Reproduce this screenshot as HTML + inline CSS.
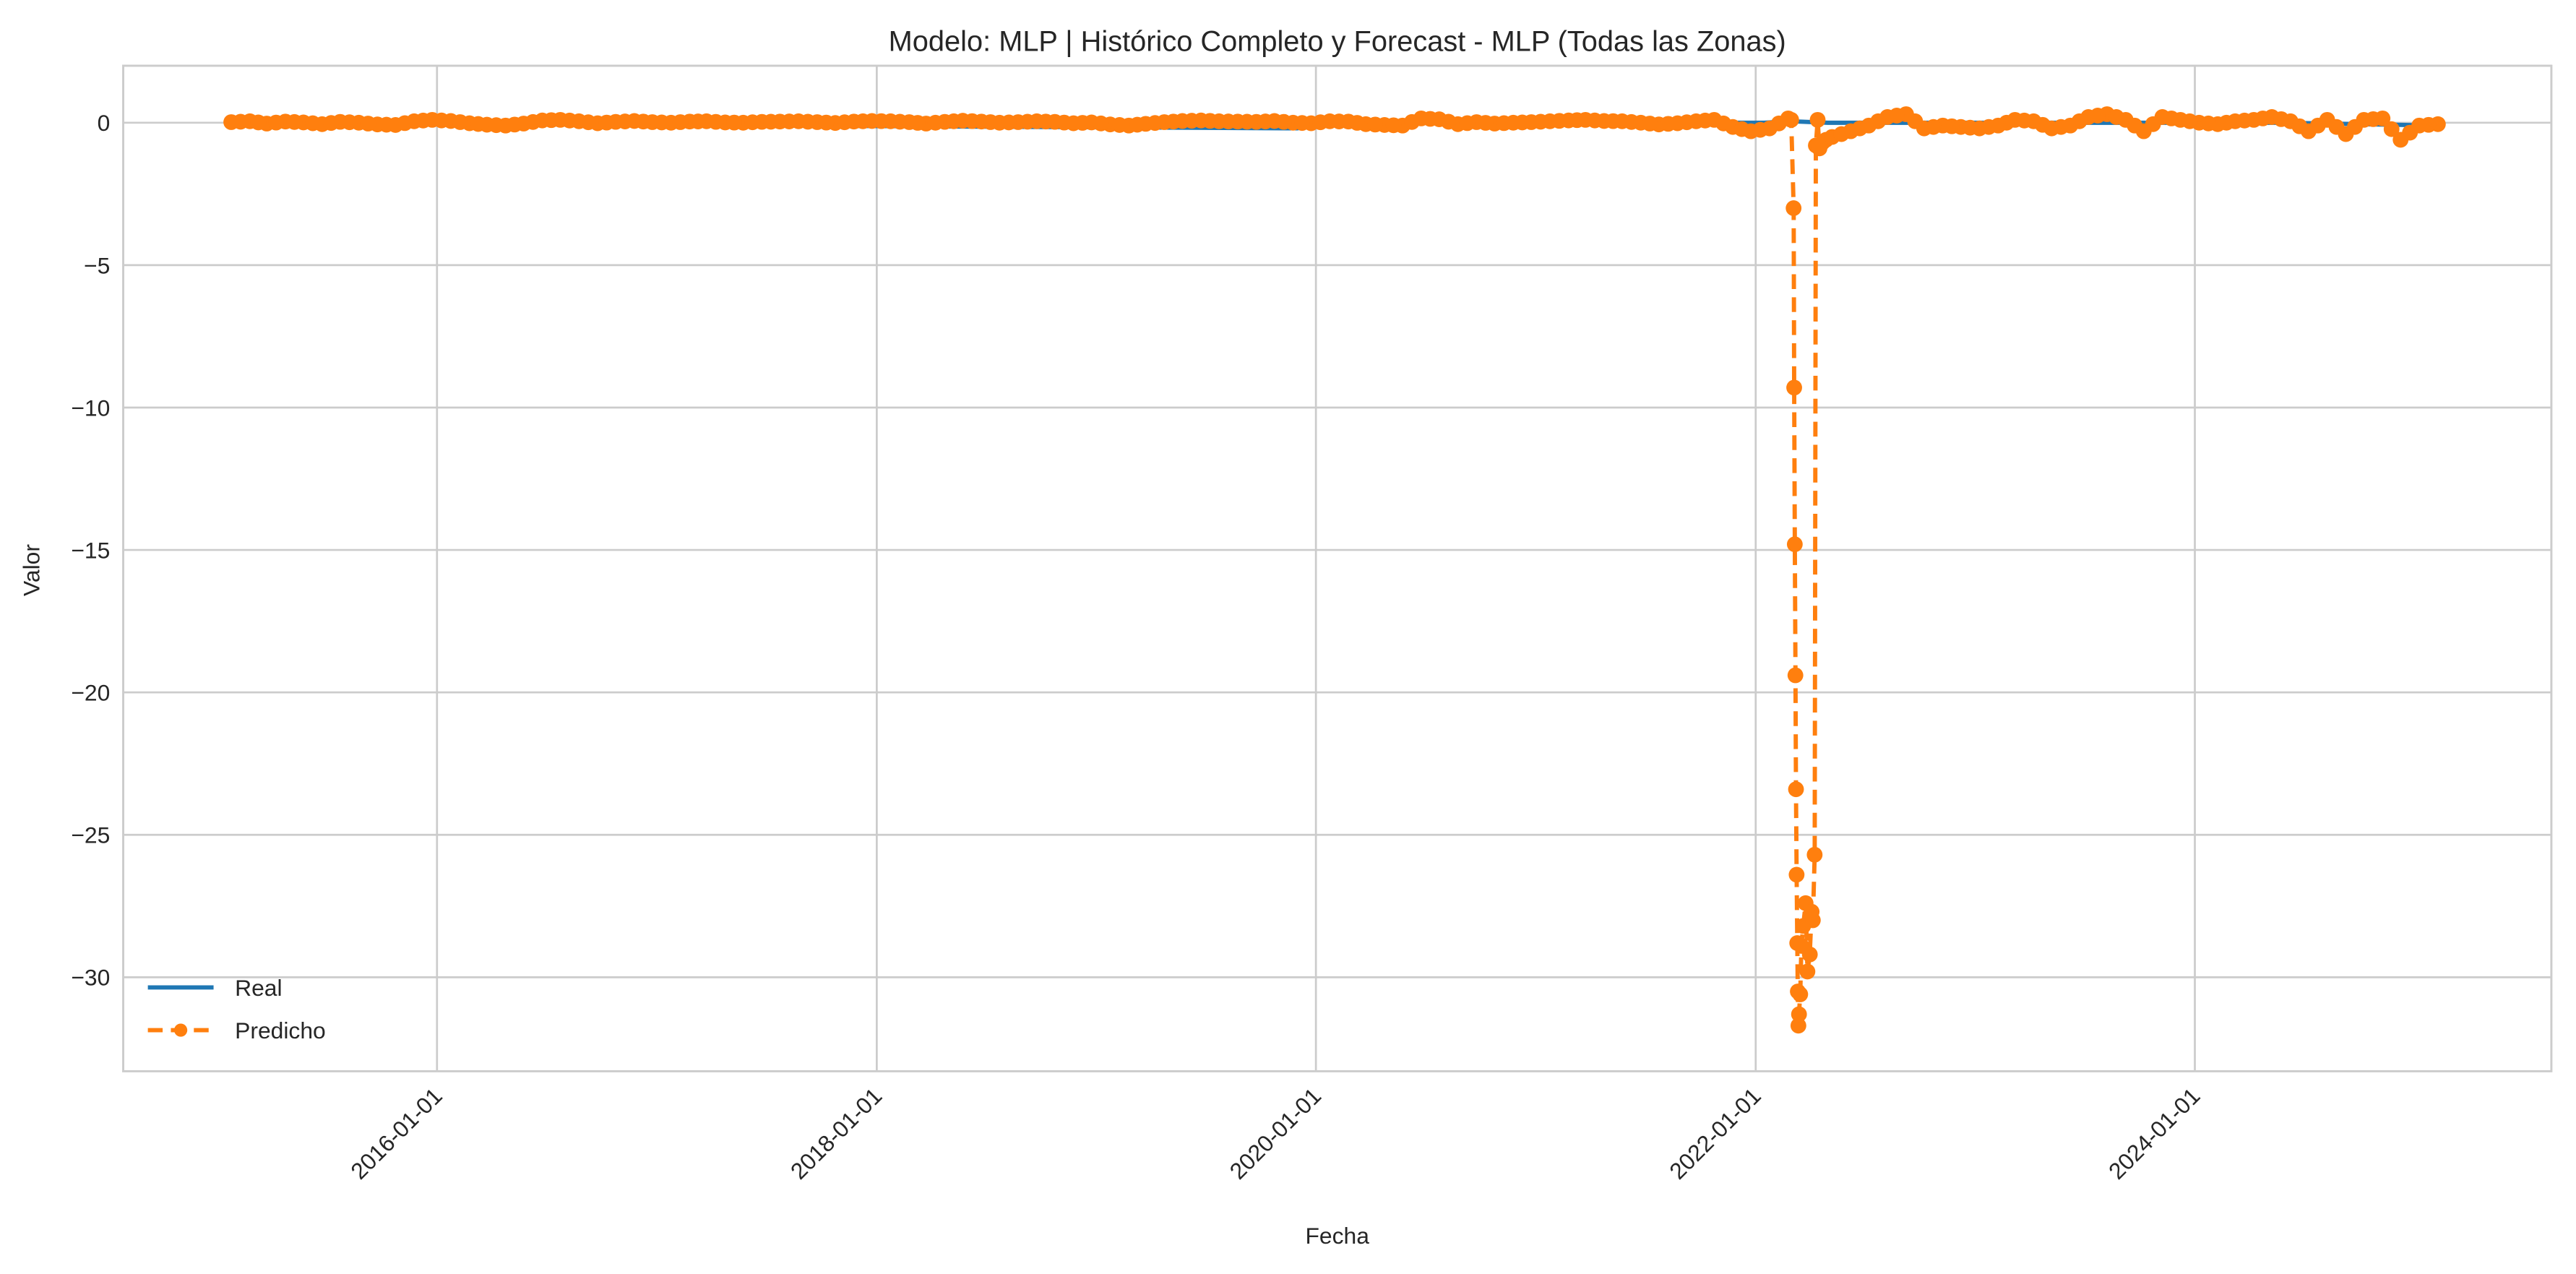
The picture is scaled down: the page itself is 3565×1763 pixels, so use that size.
<!DOCTYPE html>
<html><head><meta charset="utf-8"><style>
html,body{margin:0;padding:0;background:#fff;}
svg{display:block;font-family:"Liberation Sans",sans-serif;}
</style></head><body>
<svg id="chart" width="3565" height="1763" viewBox="0 0 1568 775.4">
<rect width="1568" height="775.4" fill="#fff"/>
<g id="grid"></g>
<g id="series"></g>
<rect x="75" y="40" width="1478" height="612" fill="none" stroke="#ccc" stroke-width="1.3"/>
<g id="ticks"></g>
<text x="814" y="31" font-size="17.5" fill="#262626" text-anchor="middle">Modelo: MLP | Histórico Completo y Forecast - MLP (Todas las Zonas)</text>
<text x="814" y="757" font-size="14" fill="#262626" text-anchor="middle">Fecha</text>
<text x="24" y="347" font-size="14" fill="#262626" text-anchor="middle" transform="rotate(-90 24 347)">Valor</text>
<g>
<g>
<line x1="90" y1="601" x2="130" y2="601" stroke="#1f77b4" stroke-width="2.6"/>
<text x="143" y="606" font-size="14" fill="#262626">Real</text></g>
<g>
<line x1="90" y1="627" x2="130" y2="627" stroke="#ff7f0e" stroke-width="2.6" stroke-dasharray="9,5"/>
<circle cx="110" cy="627" r="4" fill="#ff7f0e"/>
<text x="143" y="632" font-size="14" fill="#262626">Predicho</text></g>
</g>
</svg>
<script>
const yTicks=[0,-5,-10,-15,-20,-25,-30];
const xTickLabels=["2016-01-01","2018-01-01","2020-01-01","2022-01-01","2024-01-01"];
// monthly predicted values 2015-01 .. 2022-02
const predMonthlyA=[0.02,0.05,-0.03,0.04,0.01,-0.05,0.03,0.0,-0.06,-0.08,0.05,0.1,0.06,-0.02,-0.07,-0.1,-0.03,0.08,0.1,0.05,-0.02,0.03,0.06,0.02,0.0,0.04,0.05,0.01,0.0,0.03,0.04,0.05,0.02,-0.01,0.04,0.06,0.05,0.02,-0.03,0.03,0.07,0.04,0.0,0.02,0.05,0.03,-0.02,0.01,-0.06,-0.1,-0.04,0.02,0.06,0.08,0.05,0.04,0.03,0.06,0.0,-0.02,0.05,0.04,-0.05,-0.08,-0.1,0.15,0.12,-0.05,0.02,-0.03,0.0,0.02,0.05,0.08,0.1,0.06,0.05,0.0,-0.06,-0.02,0.05,0.1,-0.15,-0.3,-0.2,0.15];
// spike period dates and values
const spikeDates=["2022-03-01","2022-03-05","2022-03-06","2022-03-07","2022-03-08","2022-03-09","2022-03-10","2022-03-11","2022-03-12","2022-03-13","2022-03-14","2022-03-16","2022-03-18","2022-03-21","2022-03-25","2022-03-28","2022-04-01","2022-04-04","2022-04-06","2022-04-09","2022-04-11","2022-04-14","2022-04-17","2022-04-22","2022-04-28"];
const spikeValues=[0.1,-3.0,-9.3,-14.8,-19.4,-23.4,-26.4,-28.8,-30.5,-31.7,-31.3,-30.6,-28.9,-28.2,-27.4,-29.8,-29.2,-27.7,-28.0,-25.7,-0.8,0.1,-0.9,-0.7,-0.6];
// monthly predicted values 2022-05 .. 2025-02
const predMonthlyB=[-0.5,-0.3,-0.1,0.2,0.3,-0.2,-0.1,-0.15,-0.2,-0.1,0.1,0.05,-0.2,-0.1,0.2,0.3,0.1,-0.3,0.2,0.1,0.0,-0.05,0.05,0.1,0.2,0.05,-0.3,0.1,-0.4,0.1,0.15,-0.6,-0.1,-0.05];
// real series (sparse)
const realDates=["2015-01-20","2019-12-01","2020-02-01","2022-01-15","2022-03-01","2022-05-01","2023-01-01","2024-06-01","2025-02-01"];
const realValues=[0.0,-0.2,0.0,0.0,0.05,0.0,0.0,0.0,-0.1];

const NS="http://www.w3.org/2000/svg";
const X0=75,X1=1553,Y0=40,Y1=652;
const yMin=-33.3,yMax=2.0;
const t2016=Date.UTC(2016,0,1),t2024=Date.UTC(2024,0,1);
function xs(d){const t=(d instanceof Date)?d.getTime():Date.parse(d);return 266+(t-t2016)/(t2024-t2016)*(1336-266);}
function ys(v){return Y0+(yMax-v)/(yMax-yMin)*(Y1-Y0);}
function el(tag,attrs,parent){const e=document.createElementNS(NS,tag);for(const k in attrs)e.setAttribute(k,attrs[k]);parent.appendChild(e);return e;}
const grid=document.getElementById('grid'),ticks=document.getElementById('ticks'),series=document.getElementById('series');
yTicks.forEach(v=>{
 const g=el('line',{x1:X0,x2:X1,y1:ys(v),y2:ys(v),stroke:'#ccc','stroke-width':1.2},grid);
 
 
 const t=el('text',{x:67,y:ys(v)+5,'font-size':14,fill:'#262626','text-anchor':'end'},ticks);
 t.textContent=(v<0?'\u2212'+(-v):String(v));
 
 
});
xTickLabels.forEach(s=>{
 const x=xs(s);
 const g=el('line',{x1:x,x2:x,y1:Y0,y2:Y1,stroke:'#ccc','stroke-width':1.2},grid);
 
 
 const t=el('text',{x:x+4,y:668,'font-size':14,fill:'#262626','text-anchor':'end',transform:`rotate(-45 ${x+4} 668)`},ticks);
 t.textContent=s;
 
 
});
const rp=realDates.map((d,i)=>xs(d).toFixed(1)+','+ys(realValues[i]).toFixed(1)).join(' ');
const rl=el('polyline',{points:rp,fill:'none',stroke:'#1f77b4','stroke-width':2.6},series);


const pts=[];
predMonthlyA.forEach((v,i)=>pts.push([new Date(Date.UTC(2015,i,24)),v]));
spikeDates.forEach((d,i)=>pts.push([d,spikeValues[i]]));
predMonthlyB.forEach((v,i)=>pts.push([new Date(Date.UTC(2022,4+i,8)),v]));
const pl=el('polyline',{points:pts.map(p=>xs(p[0]).toFixed(1)+','+ys(p[1]).toFixed(1)).join(' '),fill:'none',stroke:'#ff7f0e','stroke-width':2.6,'stroke-dasharray':'9,5'},series);


pts.forEach((p,i)=>{
 const c=el('circle',{cx:xs(p[0]),cy:ys(p[1]),r:4.8,fill:'#ff7f0e'},series);
 
 
 if(i>0){const q=pts[i-1];const dx=xs(p[0])-xs(q[0]);
  if(dx>6&&dx<20&&Math.abs(p[1]-q[1])<1){
   const m=el('circle',{cx:(xs(p[0])+xs(q[0]))/2,cy:(ys(p[1])+ys(q[1]))/2,r:4.8,fill:'#ff7f0e'},series);
   
   
  }}
});
</script>
</body></html>
